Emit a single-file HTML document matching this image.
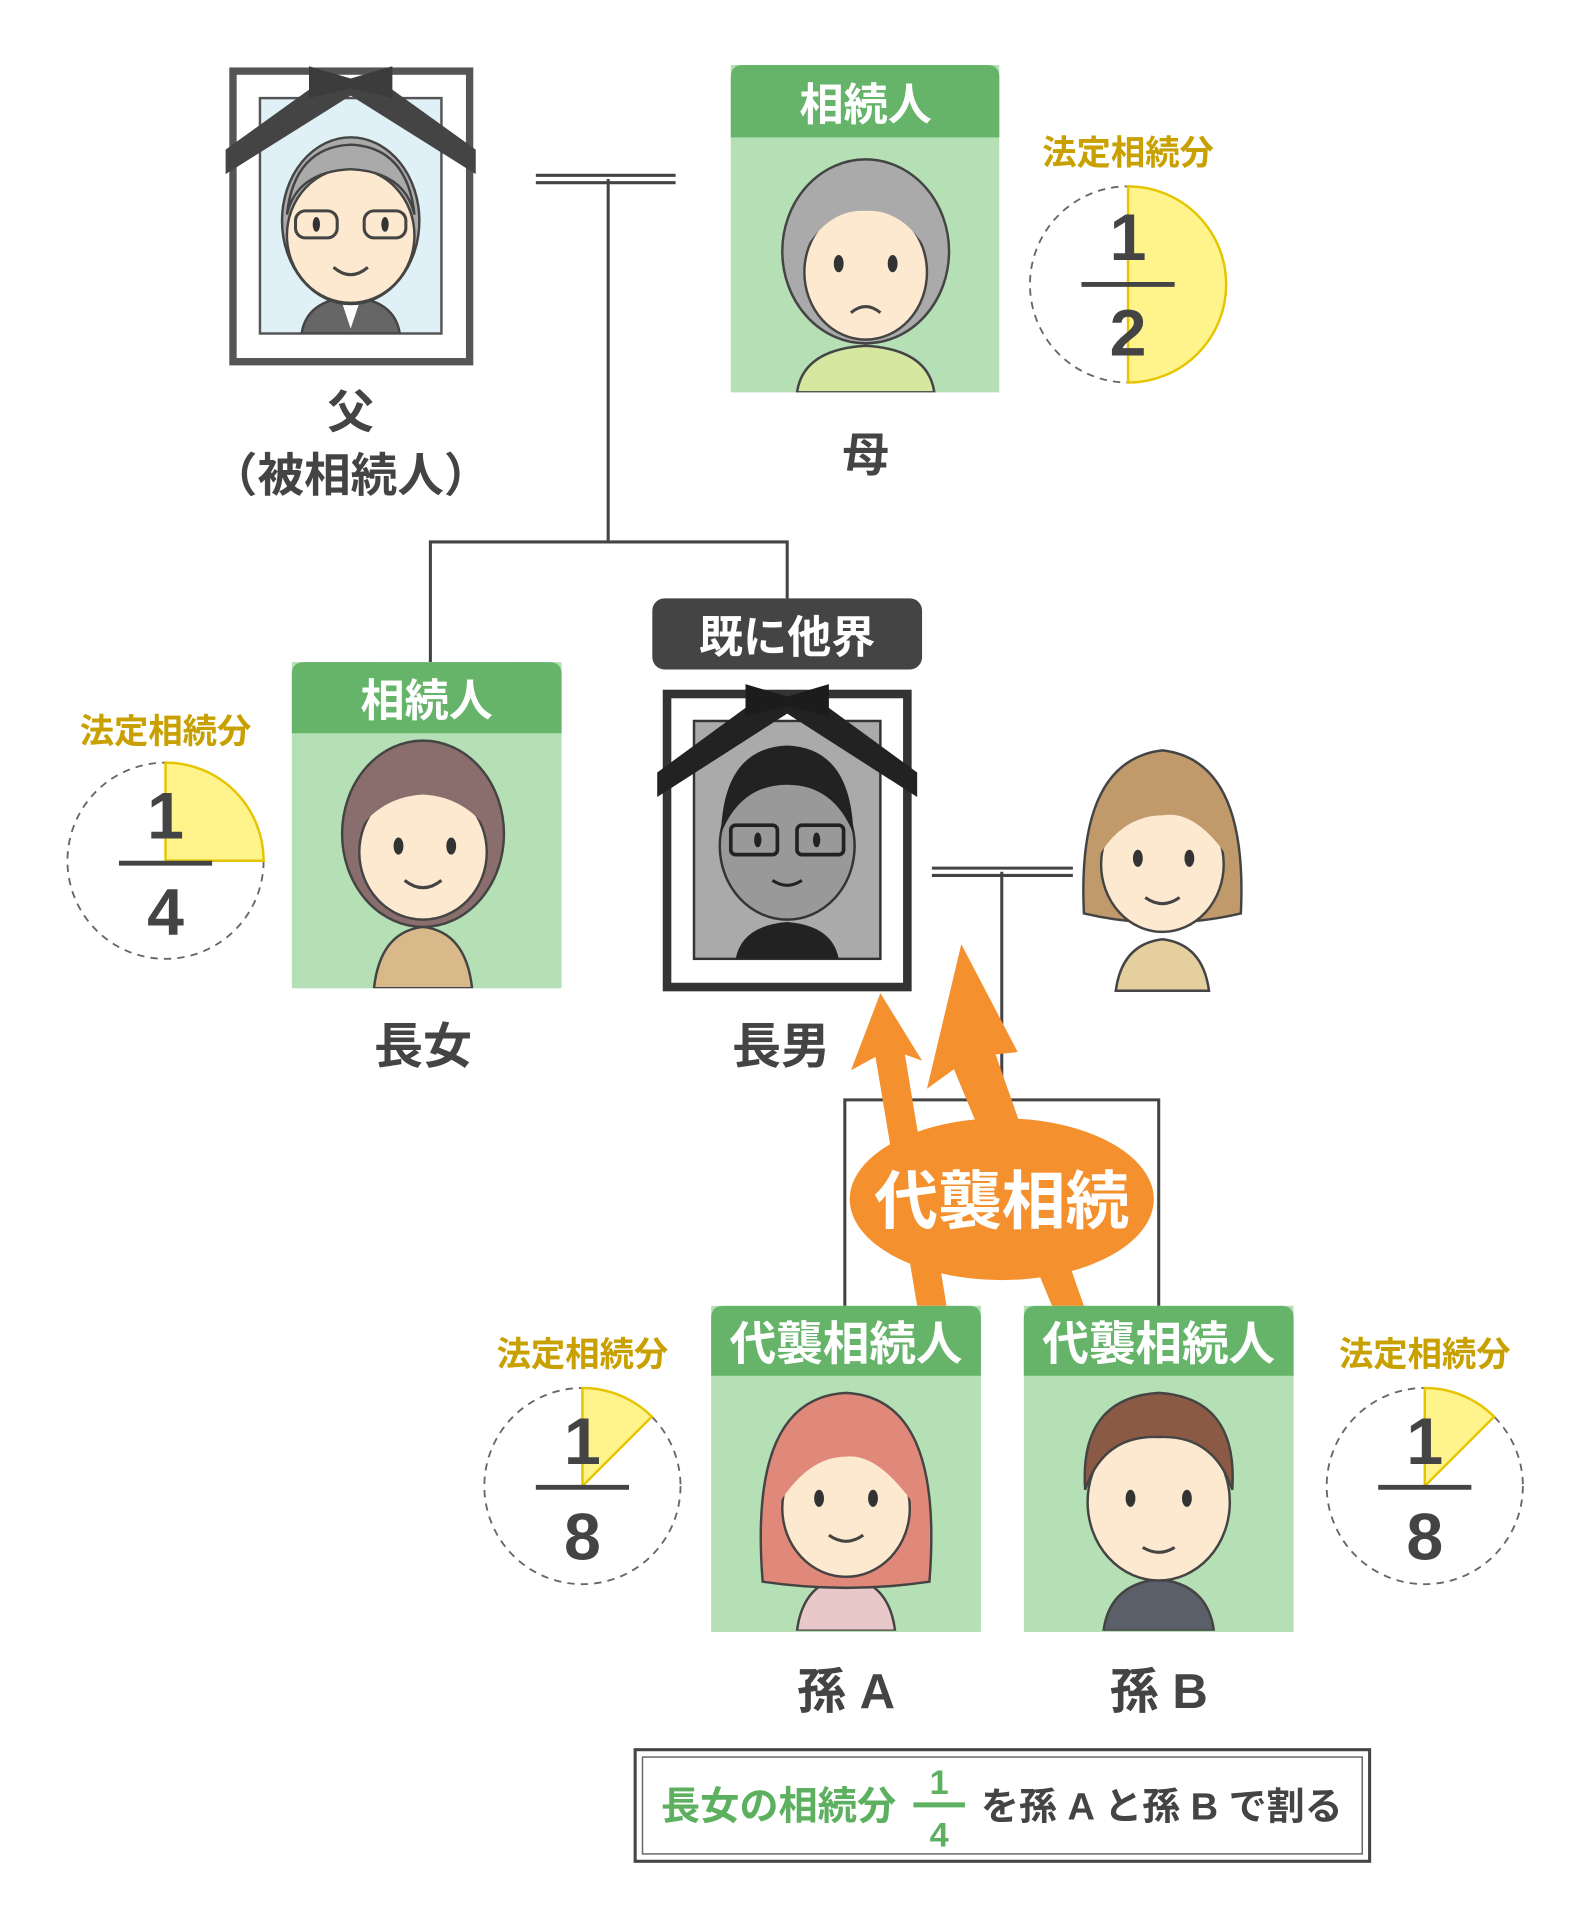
<!DOCTYPE html>
<html><head><meta charset="utf-8"><style>
html,body{margin:0;padding:0;background:#fff;}
svg{display:block;}
text{font-family:"Liberation Sans","Noto Sans CJK JP",sans-serif;font-weight:bold;}
</style></head><body>
<svg width="1594" height="1927" viewBox="0 0 1300 1571.6" xmlns="http://www.w3.org/2000/svg">
<defs>
<clipPath id="cM"><rect x="596" y="112" width="219" height="208"/></clipPath>
<clipPath id="cD"><rect x="238" y="598" width="220" height="208"/></clipPath>
<clipPath id="cA"><rect x="580" y="1122" width="220" height="208"/></clipPath>
<clipPath id="cB"><rect x="835" y="1122" width="220" height="208"/></clipPath>
<clipPath id="cF"><rect x="212" y="80" width="148" height="192"/></clipPath>
<clipPath id="cS"><rect x="566" y="588" width="152" height="194"/></clipPath>
</defs>

<g stroke="#444" stroke-width="2.5" fill="none">
<line x1="437" y1="143" x2="551" y2="143"/><line x1="437" y1="149" x2="551" y2="149"/>
<line x1="496" y1="146" x2="496" y2="442"/>
<polyline points="351,540 351,442 642,442 642,488"/>
<line x1="760" y1="708" x2="875" y2="708"/><line x1="760" y1="714" x2="875" y2="714"/>
<line x1="817" y1="711" x2="817" y2="897"/>
<polyline points="689,1065 689,897 945,897 945,1065"/>
</g>

<!-- Father frame -->
<rect x="190" y="58" width="193" height="237" fill="#fff" stroke="#555" stroke-width="6"/>
<rect x="212" y="80" width="148" height="192" fill="#dff0f6" stroke="#555" stroke-width="2"/>
<g clip-path="url(#cF)">
<path d="M246 272 Q250 245 286 242 Q322 245 326 272Z" fill="#666" stroke="#444" stroke-width="2"/>
<path d="M278 244 L286 268 L294 244Z" fill="#fff"/>
<ellipse cx="286" cy="180" rx="56" ry="68" fill="#aaa" stroke="#444" stroke-width="2"/>
<ellipse cx="286" cy="192" rx="52" ry="55" fill="#fde9cf" stroke="#444" stroke-width="2"/>
<path d="M234 175 Q240 120 286 118 Q332 120 338 175 Q330 140 286 138 Q242 140 234 175Z" fill="#aaa" stroke="#444" stroke-width="2"/>
<rect x="241" y="172" width="34" height="22" rx="8" fill="none" stroke="#444" stroke-width="2.5"/>
<rect x="297" y="172" width="34" height="22" rx="8" fill="none" stroke="#444" stroke-width="2.5"/>
<ellipse cx="258" cy="183" rx="3" ry="6" fill="#333"/><ellipse cx="314" cy="183" rx="3" ry="6" fill="#333"/>
<path d="M272 218 Q286 230 300 218" fill="none" stroke="#444" stroke-width="2.5"/>
</g>
<path d="M184 122 L262 66 L310 66 L388 122 L388 142 L286 78 L184 142Z" fill="#444"/>
<path d="M252 54 L286 64 L320 54 L320 80 L286 72 L252 80Z" fill="#3c3c3c"/>
<text x="286" y="349" font-size="38" fill="#444" text-anchor="middle">父</text>
<text x="286" y="401" font-size="38" fill="#444" text-anchor="middle">（被相続人）</text>

<!-- Mother -->
<rect x="596" y="53" width="219" height="267" fill="#b5dfb5"/>
<path d="M596 112 V63 Q596 53 606 53 H805 Q815 53 815 63 V112Z" fill="#66b36a"/>
<text x="706" y="98" font-size="36" fill="#fff" text-anchor="middle">相続人</text>
<g clip-path="url(#cM)">
<path d="M650 320 Q655 285 706 282 Q757 285 762 320Z" fill="#d6e8a0" stroke="#444" stroke-width="2"/>
<ellipse cx="706" cy="205" rx="68" ry="75" fill="#aaa" stroke="#444" stroke-width="2"/>
<ellipse cx="706" cy="222" rx="50" ry="55" fill="#fde9cf" stroke="#444" stroke-width="2"/>
<path d="M650 215 Q660 150 706 150 Q752 150 762 215 Q740 170 706 172 Q672 170 650 215Z" fill="#aaa"/>
<ellipse cx="684" cy="215" rx="4" ry="7" fill="#333"/><ellipse cx="728" cy="215" rx="4" ry="7" fill="#333"/>
<path d="M694 255 Q706 245 718 255" fill="none" stroke="#444" stroke-width="2.5"/>
</g>
<text x="706" y="384" font-size="38" fill="#444" text-anchor="middle">母</text>

<text x="920" y="134" font-size="28" fill="#c8a000" text-anchor="middle">法定相続分</text>
<circle cx="920" cy="232" r="80" fill="none" stroke="#666" stroke-width="1.5" stroke-dasharray="6 5"/>
<path d="M920 152 A80 80 0 0 1 920 312Z" fill="#fff48c" stroke="#e6c400" stroke-width="2"/>
<text x="920" y="212" font-size="54" fill="#444" text-anchor="middle">1</text>
<line x1="882" y1="232" x2="958" y2="232" stroke="#444" stroke-width="4"/>
<text x="920" y="290" font-size="54" fill="#444" text-anchor="middle">2</text>

<!-- Eldest daughter -->
<rect x="238" y="540" width="220" height="266" fill="#b5dfb5"/>
<path d="M238 598 V550 Q238 540 248 540 H448 Q458 540 458 550 V598Z" fill="#66b36a"/>
<text x="348" y="584" font-size="36" fill="#fff" text-anchor="middle">相続人</text>
<g clip-path="url(#cD)">
<path d="M305 806 Q310 760 345 756 Q380 760 385 806Z" fill="#d9b98a" stroke="#444" stroke-width="2"/>
<ellipse cx="345" cy="680" rx="66" ry="76" fill="#8a6e6e" stroke="#444" stroke-width="2"/>
<ellipse cx="345" cy="695" rx="52" ry="55" fill="#fde9cf" stroke="#444" stroke-width="2"/>
<path d="M290 680 Q300 625 345 625 Q392 628 400 680 Q380 650 345 648 Q310 650 290 680Z" fill="#8a6e6e"/>
<ellipse cx="325" cy="690" rx="4" ry="7" fill="#333"/><ellipse cx="368" cy="690" rx="4" ry="7" fill="#333"/>
<path d="M330 718 Q345 730 360 718" fill="none" stroke="#444" stroke-width="2.5"/>
</g>
<text x="345" y="867" font-size="40" fill="#444" text-anchor="middle">長女</text>

<text x="135" y="606" font-size="28" fill="#c8a000" text-anchor="middle">法定相続分</text>
<circle cx="135" cy="702" r="80" fill="none" stroke="#666" stroke-width="1.5" stroke-dasharray="6 5"/>
<path d="M135 702 L135 622 A80 80 0 0 1 215 702Z" fill="#fff48c" stroke="#e6c400" stroke-width="2"/>
<text x="135" y="684" font-size="54" fill="#444" text-anchor="middle">1</text>
<line x1="97" y1="704" x2="173" y2="704" stroke="#444" stroke-width="4"/>
<text x="135" y="762" font-size="54" fill="#444" text-anchor="middle">4</text>

<!-- Eldest son -->
<rect x="532" y="488" width="220" height="58" rx="10" fill="#444"/>
<text x="642" y="532" font-size="36" fill="#fff" text-anchor="middle">既に他界</text>
<rect x="544" y="566" width="196" height="239" fill="#fff" stroke="#333" stroke-width="7"/>
<rect x="566" y="588" width="152" height="194" fill="#aaa" stroke="#333" stroke-width="2"/>
<g clip-path="url(#cS)">
<path d="M600 782 Q605 755 642 752 Q679 755 684 782Z" fill="#222"/>
<ellipse cx="642" cy="690" rx="55" ry="60" fill="#999" stroke="#333" stroke-width="2"/>
<path d="M588 680 Q590 610 642 608 Q694 610 696 680 Q680 640 642 640 Q604 640 588 680Z" fill="#222"/>
<rect x="596" y="673" width="38" height="24" rx="4" fill="none" stroke="#222" stroke-width="3"/>
<rect x="650" y="673" width="38" height="24" rx="4" fill="none" stroke="#222" stroke-width="3"/>
<ellipse cx="618" cy="685" rx="3" ry="6" fill="#222"/><ellipse cx="666" cy="685" rx="3" ry="6" fill="#222"/>
<path d="M630 718 Q642 726 654 718" fill="none" stroke="#222" stroke-width="2.5"/>
</g>
<path d="M536 630 L618 570 L666 570 L748 630 L748 650 L642 582 L536 650Z" fill="#222"/>
<path d="M608 558 L642 568 L676 558 L676 584 L642 576 L608 584Z" fill="#1c1c1c"/>
<text x="637" y="867" font-size="40" fill="#444" text-anchor="middle">長男</text>

<!-- wife -->
<path d="M910 808 Q915 770 948 766 Q981 770 986 808Z" fill="#e6cf9e" stroke="#444" stroke-width="2"/>
<path d="M884 745 Q878 620 948 612 Q1018 620 1012 745 Q948 760 884 745Z" fill="#c19a6b" stroke="#444" stroke-width="2"/>
<ellipse cx="948" cy="705" rx="50" ry="55" fill="#fde9cf" stroke="#444" stroke-width="2"/>
<path d="M895 700 Q905 640 948 640 Q995 645 1002 700 Q975 660 948 665 Q915 665 895 700Z" fill="#c19a6b"/>
<ellipse cx="928" cy="700" rx="4" ry="7" fill="#333"/><ellipse cx="970" cy="700" rx="4" ry="7" fill="#333"/>
<path d="M934 732 Q948 742 962 732" fill="none" stroke="#444" stroke-width="2.5"/>

<g fill="#f5902e">
<polygon points="748,1065 772,1065 738,860 752,865 718,810 694,873 714,862"/>
<polygon points="858,1065 884,1065 812,860 830,858 784,770 756,888 778,872"/>
<ellipse cx="817" cy="978" rx="124" ry="66"/>
</g>
<text x="817" y="998" font-size="52" fill="#fff" text-anchor="middle">代襲相続</text>

<!-- grandchild A -->
<rect x="580" y="1065" width="220" height="266" fill="#b5dfb5"/>
<path d="M580 1122 V1075 Q580 1065 590 1065 H790 Q800 1065 800 1075 V1122Z" fill="#66b36a"/>
<text x="690" y="1109" font-size="38" fill="#fff" text-anchor="middle">代襲相続人</text>
<g clip-path="url(#cA)">
<path d="M650 1330 Q655 1290 690 1286 Q725 1290 730 1330Z" fill="#e8c8c8" stroke="#444" stroke-width="2"/>
<path d="M622 1290 Q610 1140 690 1136 Q770 1140 758 1290 Q690 1300 622 1290Z" fill="#e0887a" stroke="#444" stroke-width="2"/>
<ellipse cx="690" cy="1230" rx="52" ry="56" fill="#fde9cf" stroke="#444" stroke-width="2"/>
<path d="M636 1225 Q645 1165 690 1165 Q738 1168 744 1225 Q715 1185 690 1188 Q660 1188 636 1225Z" fill="#e0887a"/>
<ellipse cx="668" cy="1222" rx="4" ry="7" fill="#333"/><ellipse cx="712" cy="1222" rx="4" ry="7" fill="#333"/>
<path d="M676 1252 Q690 1262 704 1252" fill="none" stroke="#444" stroke-width="2.5"/>
</g>
<text x="690" y="1393" font-size="40" fill="#444" text-anchor="middle">孫 A</text>

<!-- grandchild B -->
<rect x="835" y="1065" width="220" height="266" fill="#b5dfb5"/>
<path d="M835 1122 V1075 Q835 1065 845 1065 H1045 Q1055 1065 1055 1075 V1122Z" fill="#66b36a"/>
<text x="945" y="1109" font-size="38" fill="#fff" text-anchor="middle">代襲相続人</text>
<g clip-path="url(#cB)">
<path d="M900 1330 Q905 1292 945 1288 Q985 1292 990 1330Z" fill="#5a5f6a" stroke="#444" stroke-width="2"/>
<ellipse cx="945" cy="1225" rx="58" ry="64" fill="#fde9cf" stroke="#444" stroke-width="2"/>
<path d="M885 1215 Q880 1140 945 1136 Q1010 1140 1005 1215 Q990 1170 945 1172 Q900 1170 885 1215Z" fill="#8a5a44" stroke="#444" stroke-width="2"/>
<ellipse cx="922" cy="1222" rx="4" ry="7" fill="#333"/><ellipse cx="968" cy="1222" rx="4" ry="7" fill="#333"/>
<path d="M932 1262 Q945 1270 958 1262" fill="none" stroke="#444" stroke-width="2.5"/>
</g>
<text x="945" y="1393" font-size="40" fill="#444" text-anchor="middle">孫 B</text>

<text x="475" y="1114" font-size="28" fill="#c8a000" text-anchor="middle">法定相続分</text>
<circle cx="475" cy="1212" r="80" fill="none" stroke="#666" stroke-width="1.5" stroke-dasharray="6 5"/>
<path d="M475 1212 L475 1132 A80 80 0 0 1 531.6 1155.4Z" fill="#fff48c" stroke="#e6c400" stroke-width="2"/>
<text x="475" y="1194" font-size="54" fill="#444" text-anchor="middle">1</text>
<line x1="437" y1="1213" x2="513" y2="1213" stroke="#444" stroke-width="4"/>
<text x="475" y="1272" font-size="54" fill="#444" text-anchor="middle">8</text>

<text x="1162" y="1114" font-size="28" fill="#c8a000" text-anchor="middle">法定相続分</text>
<circle cx="1162" cy="1212" r="80" fill="none" stroke="#666" stroke-width="1.5" stroke-dasharray="6 5"/>
<path d="M1162 1212 L1162 1132 A80 80 0 0 1 1218.6 1155.4Z" fill="#fff48c" stroke="#e6c400" stroke-width="2"/>
<text x="1162" y="1194" font-size="54" fill="#444" text-anchor="middle">1</text>
<line x1="1124" y1="1213" x2="1200" y2="1213" stroke="#444" stroke-width="4"/>
<text x="1162" y="1272" font-size="54" fill="#444" text-anchor="middle">8</text>

<!-- bottom box -->
<rect x="518" y="1427" width="599" height="91" fill="#fff" stroke="#444" stroke-width="2.5"/>
<rect x="524" y="1433" width="587" height="79" fill="none" stroke="#666" stroke-width="1.2"/>
<text x="539" y="1484" font-size="32" fill="#5cb05f">長女の相続分</text>
<text x="766" y="1463" font-size="28" fill="#5cb05f" text-anchor="middle">1</text>
<line x1="745" y1="1472" x2="787" y2="1472" stroke="#5cb05f" stroke-width="4"/>
<text x="766" y="1506" font-size="28" fill="#5cb05f" text-anchor="middle">4</text>
<text x="800" y="1484" font-size="31" fill="#444">を孫 A と孫 B で割る</text>
</svg>
</body></html>
